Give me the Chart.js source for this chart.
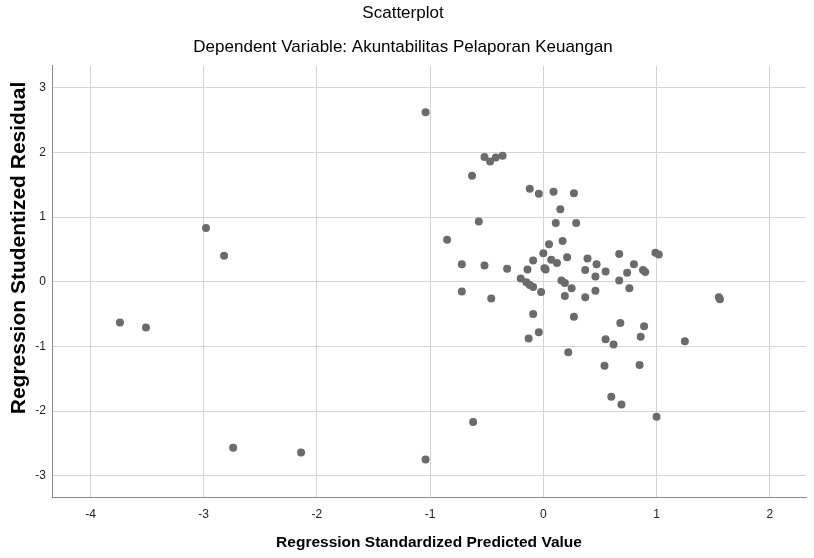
<!DOCTYPE html>
<html>
<head>
<meta charset="utf-8">
<script src="https://cdn.jsdelivr.net/npm/chart.js@4.4.1/dist/chart.umd.min.js"></script>
<style>
  html, body { margin: 0; padding: 0; background: #fff; }
  #wrap { width: 814px; height: 558px; }
</style>
</head>
<body>
<div id="wrap"><canvas id="scatterChart" width="814" height="558"></canvas></div>
<script>
// Regression Standardized Predicted Value (x) vs Studentized Residual (y)
const predicted = [
  -3.74, -3.51, -2.98, -2.82, -2.74, -2.14, -1.04, -1.04, -0.85, -0.72,
  -0.72, -0.63, -0.62, -0.57, -0.52, -0.52, -0.47, -0.46, -0.42, -0.36,
  -0.32, -0.20, -0.15, -0.14, -0.12, -0.12, -0.13, -0.09, -0.09, -0.09,
  -0.04, -0.04, -0.02, 0.00, 0.01, 0.02, 0.05, 0.07, 0.09, 0.11,
  0.12, 0.15, 0.17, 0.16, 0.19, 0.19, 0.21, 0.22, 0.25, 0.27,
  0.27, 0.29, 0.37, 0.37, 0.39, 0.46, 0.46, 0.47, 0.54, 0.55,
  0.55, 0.60, 0.62, 0.67, 0.67, 0.68, 0.69, 0.74, 0.76, 0.80,
  0.85, 0.86, 0.88, 0.89, 0.90, 0.99, 1.00, 1.02, 1.25, 1.55,
  1.56
];
const residual = [
  -0.63, -0.71, 0.83, 0.40, -2.57, -2.64, -2.75, 2.62, 0.65, 0.27,
  -0.15, 1.64, -2.17, 0.93, 1.93, 0.25, 1.86, -0.26, 1.92, 1.95,
  0.20, 0.05, -0.01, 0.19, 1.44, -0.05, -0.88, 0.33, -0.08, -0.50,
  1.36, -0.78, -0.16, 0.44, 0.21, 0.19, 0.58, 0.34, 1.39, 0.91,
  0.29, 1.12, 0.63, 0.02, -0.02, -0.22, 0.38, -1.09, -0.10, 1.37,
  -0.54, 0.91, 0.18, -0.24, 0.36, 0.08, -0.14, 0.27, -1.30, 0.16,
  -0.89, -1.78, -0.97, 0.43, 0.02, -0.64, -1.90, 0.14, -0.10, 0.27,
  -1.29, -0.85, 0.18, -0.69, 0.15, 0.45, -2.09, 0.42, -0.92, -0.24,
  -0.27
];
const xTicks = [-4, -3, -2, -1, 0, 1, 2];
const yTicks = [-3, -2, -1, 0, 1, 2, 3];

const points = predicted.map((x, i) => ({ x: x, y: residual[i] }));

// y axis title is drawn by hand so it can sit where SPSS puts it
const yTitlePlugin = {
  id: "yTitle",
  afterDraw(chart) {
    const ctx = chart.ctx;
    ctx.save();
    ctx.translate(19, 248);
    ctx.rotate(-Math.PI / 2);
    ctx.font = "bold 21px 'Liberation Sans', Arial, sans-serif";
    ctx.fillStyle = "#000";
    ctx.textAlign = "center";
    ctx.textBaseline = "middle";
    ctx.fillText("Regression Studentized Residual", 0, 0);
    ctx.restore();
  },
};

const ctx = document.getElementById("scatterChart").getContext("2d");
new Chart(ctx, {
  type: "scatter",
  data: {
    datasets: [
      {
        label: "Residual",
        data: points,
        backgroundColor: "#6b6b6b",
        borderWidth: 0,
        pointRadius: 4,
        pointHoverRadius: 4,
      },
    ],
  },
  options: {
    responsive: false,
    animation: false,
    layout: { padding: { left: 0, right: 8, top: 0, bottom: 0 } },
    plugins: {
      legend: { display: false },
      tooltip: { enabled: false },
      title: {
        display: true,
        text: "Scatterplot",
        color: "#000",
        font: { family: "'Liberation Sans', Arial, sans-serif", size: 17, weight: "normal" },
        padding: { top: 3, bottom: 9 },
      },
      subtitle: {
        display: true,
        text: "Dependent Variable: Akuntabilitas Pelaporan Keuangan",
        color: "#000",
        font: { family: "'Liberation Sans', Arial, sans-serif", size: 17 },
        padding: { top: 5, bottom: 8 },
      },
    },
    scales: {
      x: {
        type: "linear",
        min: -4.34,
        max: 2.32,
        afterBuildTicks: (scale) => {
          scale.ticks = xTicks.map((v) => ({ value: v }));
        },
        afterFit: (scale) => {
          scale.height = 61;
        },
        grid: { color: "#d4d4d4", drawTicks: false },
        border: { color: "#8a8a8a" },
        ticks: {
          color: "#222",
          padding: 10,
          font: { family: "'Liberation Sans Narrow', 'Liberation Sans', sans-serif", size: 12 },
        },
        title: {
          display: true,
          text: "Regression Standardized Predicted Value",
          color: "#000",
          font: { family: "'Liberation Sans', Arial, sans-serif", size: 15.5, weight: "bold" },
          padding: { top: 0, bottom: 6 },
        },
      },
      y: {
        type: "linear",
        min: -3.33,
        max: 3.34,
        afterBuildTicks: (scale) => {
          scale.ticks = yTicks.map((v) => ({ value: v }));
        },
        afterFit: (scale) => {
          scale.width = 52;
        },
        grid: { color: "#d4d4d4", drawTicks: false },
        border: { color: "#8a8a8a" },
        ticks: {
          color: "#222",
          padding: 6,
          font: { family: "'Liberation Sans Narrow', 'Liberation Sans', sans-serif", size: 12 },
        },
      },
    },
  },
  plugins: [yTitlePlugin],
});
</script>
</body>
</html>
